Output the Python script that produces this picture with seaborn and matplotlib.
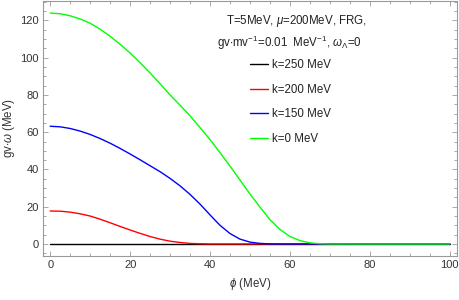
import numpy as np
import pandas as pd
import matplotlib
matplotlib.use("Agg")
import matplotlib.pyplot as plt
import seaborn as sns
from matplotlib.ticker import MultipleLocator

# values
phi = [0, 2.5, 5, 7.5, 10, 12.5, 15, 17.5, 20, 22.5, 25, 27.5, 30, 32.5, 35,
       37.5, 40, 42.5, 45, 47.5, 50, 52.5, 55, 57.5, 60, 62.5, 65, 67.5, 70,
       80, 90, 100]

omega_k250 = [0.0] * len(phi)

omega_k200 = [17.7, 17.6, 17.1, 16.2, 15.0, 13.3, 11.4, 9.4, 7.5, 5.7, 4.0,
              2.6, 1.5, 0.8, 0.3, 0.1, 0.0, 0.0, 0.0, 0.0, 0.0, 0.0, 0.0, 0.0,
              0.0, 0.0, 0.0, 0.0, 0.0, 0.0, 0.0, 0.0]

omega_k150 = [63.2, 62.9, 62.0, 60.6, 58.8, 56.6, 54.1, 51.3, 48.3, 45.2, 42.0,
              38.8, 35.2, 31.2, 26.6, 21.4, 15.6, 10.0, 5.6, 2.6, 1.0, 0.3, 0.05,
              0.0, 0.0, 0.0, 0.0, 0.0, 0.0, 0.0, 0.0, 0.0]

omega_k0 = [124.0, 123.6, 122.5, 120.8, 118.5, 115.3, 111.5, 107.2, 102.5, 97.3,
            91.8, 86.0, 80.0, 74.5, 68.8, 62.5, 56.0, 49.0, 41.8, 34.3, 26.8,
            19.8, 13.0, 7.8, 4.0, 1.8, 0.6, 0.15, 0.02, 0.0, 0.0, 0.0]

labels = ["k=250 MeV", "k=200 MeV", "k=150 MeV", "k=0 MeV"]
colors = ["#000000", "#ff0000", "#0000ff", "#00ff00"]

sns.set_style("white")
plt.rcParams['font.family'] = ['Liberation Sans', 'DejaVu Sans']
plt.rcParams['mathtext.fontset'] = 'custom'
plt.rcParams['mathtext.rm'] = 'Liberation Sans'
plt.rcParams['mathtext.it'] = 'Liberation Sans:italic'

df = pd.DataFrame({
    'phi': phi * 4,
    'omega': omega_k250 + omega_k200 + omega_k150 + omega_k0,
    'k': [labels[0]] * len(phi) + [labels[1]] * len(phi)
         + [labels[2]] * len(phi) + [labels[3]] * len(phi),
})

fig = plt.figure(figsize=(4.6, 3.0), dpi=100)
ax = fig.add_axes([0.0935, 0.147, 0.9, 0.85])

sns.lineplot(data=df, x='phi', y='omega', hue='k', hue_order=labels,
             palette=colors, linewidth=1.0, ax=ax)

ax.set_xlim(-1.8, 101.8)
ax.set_ylim(-6.4, 130.5)
ax.xaxis.set_major_locator(MultipleLocator(20))
ax.xaxis.set_minor_locator(MultipleLocator(5))
ax.yaxis.set_major_locator(MultipleLocator(20))
ax.yaxis.set_minor_locator(MultipleLocator(5))

frame = '#9a9a9a'
for sp in ax.spines.values():
    sp.set_color(frame)
    sp.set_linewidth(0.8)
ax.tick_params(which='both', direction='in', bottom=True, left=True,
               top=True, right=True, color=frame, labelsize=8,
               labelcolor='#333333', width=0.6)
ax.tick_params(which='major', length=3.5, pad=3)
ax.tick_params(which='minor', length=2)

ax.set_xlabel(r'$\phi$ (MeV)', fontsize=8.3, color='#333333', labelpad=4)
ax.set_ylabel(r'gv$\cdot\omega$ (MeV)', fontsize=8.3, color='#333333', labelpad=2)

ax.text(0.442, 0.922, r'T=5MeV, $\mu$=200MeV, FRG,', transform=ax.transAxes,
        fontsize=8.3, color='#222222', va='center')
ax.text(0.42, 0.836, r'gv$\cdot$mv$^{-1}$=0.01  MeV$^{-1}$, $\omega_{\Lambda}$=0',
        transform=ax.transAxes, fontsize=8.3, color='#222222', va='center')

leg = ax.legend(loc='upper left', bbox_to_anchor=(0.5, 0.772), frameon=False,
                fontsize=8.3, handlelength=1.6, handletextpad=0.35,
                labelspacing=1.1, borderaxespad=0.0, borderpad=0.0)
for t in leg.get_texts():
    t.set_color('#222222')

fig.savefig('out.png', dpi=100)
